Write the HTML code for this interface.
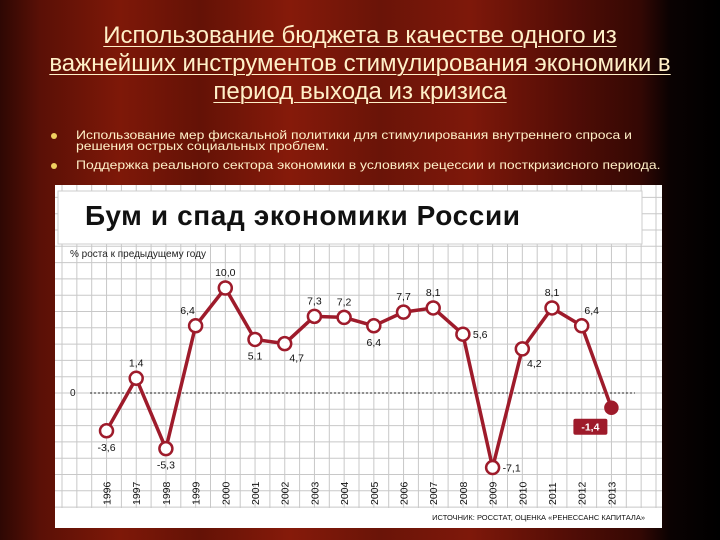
<!DOCTYPE html>
<html><head><meta charset="utf-8"><style>
body{margin:0;width:720px;height:540px;overflow:hidden;position:relative;font-family:"Liberation Sans",sans-serif;
background:linear-gradient(90deg,#2e0804 0px,#5a1006 40px,#7e1808 120px,#641206 200px,#861a0a 290px,#6a1408 380px,#7e180a 470px,#560e06 560px,#340804 640px,#0a0202 670px,#000 720px);}
.t{position:absolute;left:0;width:720px;text-align:center;color:#fff0c8;font-size:24px;text-decoration:underline;text-decoration-thickness:1px;text-underline-offset:3px}
.b{position:absolute;left:76px;color:#fff0c8;font-size:12px;line-height:11px;transform:scaleX(1.16);transform-origin:left;white-space:nowrap}
.dot{position:absolute;left:51px;width:6px;height:6px;border-radius:3px;background:#f0d060}
</style></head><body>
<div class="t" style="top:22px">Использование бюджета в качестве одного из</div>
<div class="t" style="top:50px">важнейших инструментов стимулирования экономики в</div>
<div class="t" style="top:78px">период выхода из кризиса</div>
<div class="dot" style="top:133px"></div>
<div class="b" style="top:130px">Использование мер фискальной политики для стимулирования внутреннего спроса и<br>решения острых социальных проблем.</div>
<div class="dot" style="top:163px"></div>
<div class="b" style="top:160px">Поддержка реального сектора экономики в условиях рецессии и посткризисного периода.</div>
<svg id="c" width="720" height="540" style="position:absolute;left:0;top:0" font-family="Liberation Sans, sans-serif"></svg>
<script>
const years=["1996","1997","1998","1999","2000","2001","2002","2003","2004","2005","2006","2007","2008","2009","2010","2011","2012","2013"];
const values=[-3.6,1.4,-5.3,6.4,10.0,5.1,4.7,7.3,7.2,6.4,7.7,8.1,5.6,-7.1,4.2,8.1,6.4,-1.4];
const valueLabels=["-3,6","1,4","-5,3","6,4","10,0","5,1","4,7","7,3","7,2","6,4","7,7","8,1","5,6","-7,1","4,2","8,1","6,4","-1,4"];
const labelSide=["below","above","below","aboveleft","above","below","belowright","above","above","below","above","above","right","right","belowright","above","aboveright","box"];
const svg=document.getElementById('c');const NS="http://www.w3.org/2000/svg";
function mk(t,a,p){const e=document.createElementNS(NS,t);for(const k in a)e.setAttribute(k,a[k]);(p||svg).appendChild(e);return e;}
const x=i=>106.5+i*29.7;const y=v=>393-v*10.5;
let e=mk('rect',{x:55,y:185,width:607,height:343,fill:'#fff'});

const g=mk('g',{stroke:'#c8c8c8','stroke-width':1});

for(let gx=62;gx<660;gx+=14.85)mk('line',{x1:gx,y1:185,x2:gx,y2:508},g);
for(let gy=393-16.3*12;gy<510;gy+=16.3)if(gy>186)mk('line',{x1:55,y1:gy,x2:662,y2:gy},g);
e=mk('rect',{x:58,y:191,width:584,height:53,fill:'#fff',stroke:'#ccc'});

e=mk('text',{x:85,y:225,'font-size':28,'font-weight':'bold',fill:'#111',textLength:435});e.textContent='Бум и спад экономики России';

e=mk('text',{x:70,y:257,'font-size':10,fill:'#222'});e.textContent='% роста к предыдущему году';

e=mk('line',{x1:90,y1:y(0),x2:635,y2:y(0),stroke:'#222','stroke-dasharray':'2,2'});

e=mk('text',{x:70,y:y(0)+3,'font-size':10,fill:'#222'});e.textContent='0';

e=mk('polyline',{points:values.map((v,i)=>x(i)+','+y(v)).join(' '),fill:'none',stroke:'#9e1b2b','stroke-width':3.5,'stroke-linejoin':'round'});

values.forEach((v,i)=>{
 const last=i==values.length-1;
 let c=mk('circle',{cx:x(i),cy:y(v),r:last?6:6.5,fill:last?'#9e1b2b':'#fff',stroke:'#9e1b2b','stroke-width':2.5});
 
 let dx=0,dy=0,anc='middle';const s=labelSide[i];
 if(s=='above')dy=-12;else if(s=='below')dy=20;else if(s=='aboveleft'){dx=-8;dy=-12;}
 else if(s=='belowright'){dx=12;dy=18;}else if(s=='right'){dx=10;dy=4;anc='start';}else if(s=='aboveright'){dx=10;dy=-12;}
 if(s=='box'){let r=mk('rect',{x:x(i)-38,y:y(v)+11,width:34,height:16,rx:2,fill:'#9e1b2b'});
  dx=-21;dy=23;}
 let t=mk('text',{x:x(i)+dx,y:y(v)+dy,'font-size':10.5,'text-anchor':anc,fill:s=='box'?'#fff':'#111','font-weight':s=='box'?'bold':'normal'});
 t.textContent=valueLabels[i];
 let yt=mk('text',{transform:`translate(${x(i)+4},505) rotate(-90)`,'font-size':10.5,fill:'#111'});
 yt.textContent=years[i];
});
e=mk('text',{x:645,y:520,'font-size':7.5,'text-anchor':'end',fill:'#111'});e.textContent='ИСТОЧНИК: РОССТАТ, ОЦЕНКА «РЕНЕССАНС КАПИТАЛА»';

</script>
</body></html>
